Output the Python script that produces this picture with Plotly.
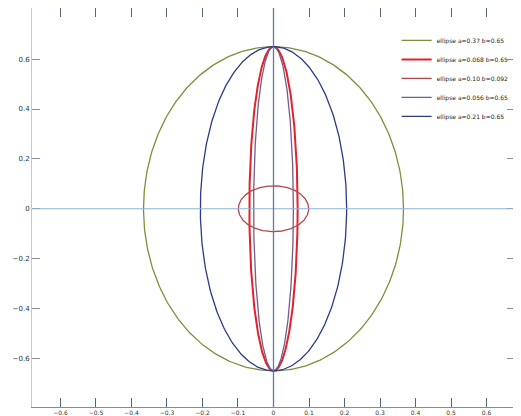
import numpy as np
import plotly.graph_objects as go

# Ellipse parameters (semi-axes)
names = ["ellipse a=0.37 b=0.65", "ellipse a=0.068 b=0.65", "ellipse a=0.10 b=0.092",
         "ellipse a=0.056 b=0.65", "ellipse a=0.21 b=0.65"]
semi_x = [0.366, 0.068, 0.099, 0.056, 0.206]
semi_y = [0.650, 0.650, 0.092, 0.650, 0.650]
colors = ["#7d8f3c", "#e3202c", "#b5474a", "#7a5a86", "#2c3c86"]
widths = [1.3, 2.0, 1.3, 1.3, 1.3]

x_ticks = [-0.6, -0.5, -0.4, -0.3, -0.2, -0.1, 0, 0.1, 0.2, 0.3, 0.4, 0.5, 0.6]
y_ticks = [-0.6, -0.4, -0.2, 0, 0.2, 0.4, 0.6]

t = np.linspace(0, 2 * np.pi, 361)
fig = go.Figure()
for n, ax, by, c, w in zip(names, semi_x, semi_y, colors, widths):
    fig.add_trace(go.Scatter(x=ax * np.cos(t), y=by * np.sin(t), mode="lines", name=n,
                             line=dict(color=c, width=w)))

fig.add_hline(y=0, line=dict(color="#8fb4d6", width=1))
fig.add_vline(x=0, line=dict(color="#5a7f9f", width=1.3))

# The page body adds an 8px margin, so the figure is sized/offset to compensate.
fig.update_layout(
    width=513, height=408,
    margin=dict(l=24, r=6, t=0, b=9, autoexpand=False),
    paper_bgcolor="white", plot_bgcolor="white",
    font=dict(family="DejaVu Sans", size=7, color="#333333"),
    showlegend=True,
    legend=dict(x=0.755, y=0.955, xanchor="left", yanchor="top", bgcolor="rgba(255,255,255,0)",
                font=dict(size=6, color="#222"), itemwidth=30, tracegroupgap=0),
    xaxis=dict(range=[-0.68, 0.68], tickvals=x_ticks, ticks="inside", ticklen=9,
               tickcolor="#556677", showgrid=False, zeroline=False, showline=True,
               linecolor="#7f8fa0", mirror="ticks", tickfont=dict(size=6), automargin=False),
    yaxis=dict(range=[-0.795, 0.805], tickvals=y_ticks, ticks="inside", ticklen=8,
               tickcolor="#8090a0", showgrid=False, zeroline=False, showline=True,
               linecolor="#c0c8d0", mirror="ticks", tickfont=dict(size=7), automargin=False),
)

fig.write_html("out.html")
